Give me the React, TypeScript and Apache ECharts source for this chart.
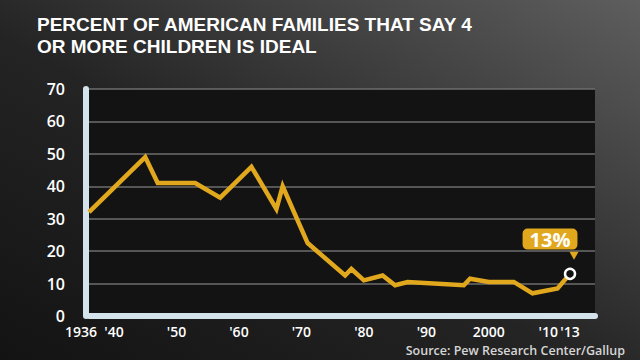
import React, { useEffect, useRef } from "react";
import * as echarts from "echarts";

const years = [1936, 1945, 1947, 1953, 1957, 1962, 1966, 1967, 1971, 1977, 1978, 1980, 1983, 1985, 1987, 1996, 1997, 2000, 2001, 2004, 2007, 2011, 2013];
const values = [32, 49, 41, 41, 36.5, 46, 33, 40, 22.5, 12.5, 14.5, 11, 12.5, 9.5, 10.5, 9.5, 11.5, 10.5, 10.5, 10.5, 7, 8.5, 13];
const xTickValues = [1936, 1940, 1950, 1960, 1970, 1980, 1990, 2000, 2010];
const xTickLabels = ["1936", "'40", "'50", "'60", "'70", "'80", "'90", "2000", "'10"];
const xExtraTickValues = [2013];
const xExtraTickLabels = ["'13"];
const yTicks = [0, 10, 20, 30, 40, 50, 60, 70];
const lastLabel = "13%";
const titleLines = ["PERCENT OF AMERICAN FAMILIES THAT SAY 4", "OR MORE CHILDREN IS IDEAL"];
const sourceText = "Source: Pew Research Center/Gallup";

const FONT = "'Open Sans', 'DejaVu Sans', sans-serif";
const TITLE_FONT = "'Liberation Sans', Arial, sans-serif";
const GOLD = "#e1a81e";

export default function App() {
  const ref = useRef<HTMLDivElement>(null);
  useEffect(() => {
    if (!ref.current) return;
    const chart = echarts.init(ref.current, null, { renderer: "svg" });
    const lineData = years.map((y, i) => [y, values[i]]);
    const last = lineData[lineData.length - 1];
    const labelStyle = {
      color: "#ffffff",
      fontFamily: FONT,
      fontSize: 14,
      fontWeight: 600,
    };
    chart.setOption({
      animation: false,
      backgroundColor: new echarts.graphic.LinearGradient(0, 1, 1, 0, [
        { offset: 0, color: "#131313" },
        { offset: 0.45, color: "#242424" },
        { offset: 1, color: "#5e5e5e" },
      ]),
      graphic: [
        ...titleLines.map((t, i) => ({
          type: "text",
          left: 37,
          top: 15 + i * 22,
          style: {
            text: t,
            fill: "#ffffff",
            font: "bold 19px " + TITLE_FONT,
            lineHeight: 19,
          },
        })),
        {
          type: "text",
          right: 15,
          top: 344,
          style: {
            text: sourceText,
            fill: "#d6d6d6",
            font: "600 12.5px " + FONT,
          },
        },
      ],
      grid: {
        left: 89,
        right: 45,
        top: 89,
        bottom: 44,
        show: true,
        backgroundColor: "#131313",
        borderWidth: 0,
      },
      xAxis: [
        {
          type: "value",
          min: 1936,
          max: 2017,
          offset: 3,
          axisLine: { show: true, lineStyle: { color: "#d4e2ec", width: 6 } },
          axisTick: { show: false },
          splitLine: { show: false },
          axisLabel: {
            ...labelStyle,
            customValues: xTickValues,
            hideOverlap: false,
            margin: 5,
            formatter: (v: number) => {
              const i = xTickValues.indexOf(v);
              const t = i >= 0 ? xTickLabels[i] : "";
              if (v === 1936) return "{a|" + t + "}";
              if (v === 2010) return "{b|" + t + "}";
              return t;
            },
            rich: {
              a: { ...labelStyle, padding: [0, 16, 0, 0] },
              b: { ...labelStyle, padding: [0, 6, 0, 0] },
            },
          },
        },
        {
          type: "value",
          min: 1936,
          max: 2017,
          position: "bottom",
          offset: 3,
          axisLine: { show: false },
          axisTick: { show: false },
          splitLine: { show: false },
          axisLabel: {
            ...labelStyle,
            customValues: xExtraTickValues,
            hideOverlap: false,
            margin: 5,
            formatter: (v: number) => {
              const i = xExtraTickValues.indexOf(v);
              return i >= 0 ? xExtraTickLabels[i] : "";
            },
          },
        },
      ],
      yAxis: {
        type: "value",
        min: yTicks[0],
        max: yTicks[yTicks.length - 1],
        interval: 10,
        offset: 3,
        axisLine: { show: true, lineStyle: { color: "#d4e2ec", width: 6 } },
        axisTick: { show: false },
        splitLine: { show: true, lineStyle: { color: "#6e6e6e", width: 1.5 } },
        axisLabel: {
          margin: 21,
          color: "#ffffff",
          fontFamily: FONT,
          fontSize: 16,
          fontWeight: 600,
        },
      },
      series: [
        {
          type: "line",
          data: lineData,
          symbol: "none",
          lineStyle: { color: GOLD, width: 4.5, join: "miter" },
          z: 3,
        },
        {
          type: "scatter",
          data: [last],
          symbol: "triangle",
          symbolRotate: 180,
          symbolSize: [9, 8],
          symbolOffset: [4, -18],
          itemStyle: { color: GOLD, opacity: 1 },
          z: 4,
        },
        {
          type: "scatter",
          data: [last],
          symbol: "circle",
          symbolSize: 10,
          itemStyle: { color: "#111111", borderColor: "#ffffff", borderWidth: 2.5, opacity: 1 },
          label: {
            show: true,
            formatter: lastLabel,
            position: "top",
            distance: 18,
            offset: [-20, 0],
            color: "#ffffff",
            fontFamily: FONT,
            fontSize: 20,
            fontWeight: "bold",
            backgroundColor: GOLD,
            borderRadius: 5,
            padding: [1, 7, 0, 7],
          },
          z: 5,
        },
      ],
    });
    return () => chart.dispose();
  }, []);
  return (
    <div
      ref={ref}
      style={{ position: "fixed", left: 0, top: 0, width: 640, height: 360 }}
    />
  );
}
